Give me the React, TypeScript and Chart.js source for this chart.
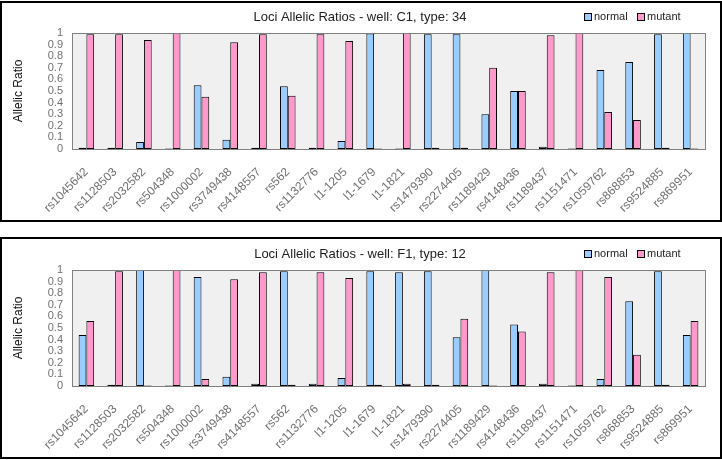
import React, { useEffect, useRef } from "react";
import { Chart, registerables } from "chart.js";

Chart.register(...registerables);

const categories = [
  "rs1045642", "rs1128503", "rs2032582", "rs504348", "rs1000002", "rs3749438",
  "rs4148557", "rs562", "rs1132776", "l1-1205", "l1-1679", "l1-1821",
  "rs1479390", "rs2274405", "rs1189429", "rs4148436", "rs1189437", "rs1151471",
  "rs1059762", "rs868853", "rs9524885", "rs869951",
];

const normalC1 = [0.01, 0.01, 0.06, 0.005, 0.55, 0.08, 0.01, 0.54, 0.01, 0.07, 0.995, 0.005, 0.99, 0.99, 0.3, 0.5, 0.02, 0.005, 0.68, 0.75, 0.99, 1.0];
const mutantC1 = [0.99, 0.99, 0.94, 1.0, 0.45, 0.92, 0.99, 0.46, 0.99, 0.93, 0.005, 1.0, 0.01, 0.01, 0.7, 0.5, 0.98, 1.0, 0.32, 0.25, 0.01, 0.005];

const normalF1 = [0.44, 0.01, 1.0, 0.005, 0.94, 0.08, 0.02, 0.99, 0.02, 0.07, 0.99, 0.98, 0.99, 0.42, 1.0, 0.53, 0.02, 0.005, 0.06, 0.73, 0.99, 0.44];
const mutantF1 = [0.56, 0.99, 0.005, 1.0, 0.06, 0.92, 0.98, 0.01, 0.98, 0.93, 0.01, 0.02, 0.01, 0.58, 0.005, 0.47, 0.98, 1.0, 0.94, 0.27, 0.01, 0.56];

const seriesNames = ["normal", "mutant"];
const seriesColors = ["#99CCFF", "#FF99CC"];
const yTickValues = [0, 0.1, 0.2, 0.3, 0.4, 0.5, 0.6, 0.7, 0.8, 0.9, 1];

const FONT = "'Liberation Sans', Arial, sans-serif";

const headerPlugin = {
  id: "header",
  beforeDraw(chart: any) {
    const { ctx, chartArea } = chart;
    const { left, top, right, bottom } = chartArea;
    ctx.save();
    ctx.fillStyle = "#ffffff";
    ctx.fillRect(0, 0, chart.width, chart.height);
    ctx.fillStyle = "#F0F0F0";
    ctx.fillRect(left, top, right - left, bottom - top);
    ctx.restore();
  },
  afterDraw(chart: any, _args: any, opts: any) {
    const { ctx, chartArea } = chart;
    const { left, top, right, bottom } = chartArea;
    ctx.save();
    ctx.strokeStyle = "#808080";
    ctx.lineWidth = 1;
    ctx.strokeRect(Math.round(left) + 0.5, Math.round(top) + 0.5, Math.round(right - left), Math.round(bottom - top));
    ctx.fillStyle = "#222";
    ctx.font = `13px ${FONT}`;
    ctx.textAlign = "center";
    ctx.textBaseline = "middle";
    ctx.fillText(opts.title, 360, 17);
    ctx.font = `11px ${FONT}`;
    ctx.textAlign = "left";
    const items = [
      { x: 584, label: seriesNames[0], color: seriesColors[0] },
      { x: 637, label: seriesNames[1], color: seriesColors[1] },
    ];
    items.forEach((it) => {
      ctx.fillStyle = it.color;
      ctx.fillRect(it.x, 13, 7, 7);
      ctx.strokeStyle = "#000";
      ctx.strokeRect(it.x + 0.5, 13.5, 7, 7);
      ctx.fillStyle = "#222";
      ctx.fillText(it.label, it.x + 10, 17);
    });
    ctx.restore();
  },
};

function AllelicChart({ title, normal, mutant, top }: { title: string; normal: number[]; mutant: number[]; top: number }) {
  const ref = useRef<HTMLCanvasElement | null>(null);
  useEffect(() => {
    if (!ref.current) return;
    const chart = new Chart(ref.current, {
      type: "bar",
      data: {
        labels: categories,
        datasets: [
          { label: seriesNames[0], data: normal, backgroundColor: seriesColors[0], borderColor: "#000", borderWidth: 1, borderSkipped: false },
          { label: seriesNames[1], data: mutant, backgroundColor: seriesColors[1], borderColor: "#000", borderWidth: 1, borderSkipped: false },
        ],
      },
      options: {
        animation: false,
        responsive: false,
        maintainAspectRatio: false,
        layout: { padding: { top: 33, right: 17, left: 0, bottom: 0 } },
        datasets: { bar: { categoryPercentage: 0.54, barPercentage: 1.0 } },
        plugins: {
          legend: { display: false },
          title: { display: false },
          tooltip: { enabled: false },
          header: { title },
        } as any,
        scales: {
          x: {
            grid: { display: false, drawTicks: false },
            border: { display: false },
            ticks: {
              autoSkip: false,
              minRotation: 45,
              maxRotation: 45,
              color: "#707070",
              font: { family: FONT, size: 12 },
              padding: 16,
            },
            afterFit: (s: any) => { s.height = 73; },
          },
          y: {
            min: 0,
            max: 1,
            grid: { display: false, drawTicks: false },
            border: { display: false },
            afterBuildTicks: (s: any) => { s.ticks = yTickValues.map((v) => ({ value: v })); },
            ticks: {
              autoSkip: false,
              color: "#707070",
              font: { family: FONT, size: 11 },
              padding: 9,
              callback: (v: any) => String(Math.round(Number(v) * 10) / 10),
            },
            title: {
              display: true,
              text: "Allelic Ratio",
              color: "#111",
              font: { family: FONT, size: 12 },
              padding: { top: 11, bottom: 0 },
            },
            afterFit: (s: any) => { s.width = 72; },
          },
        },
      },
      plugins: [headerPlugin],
    } as any);
    return () => chart.destroy();
  }, [title, normal, mutant]);

  return (
    <div style={{ position: "absolute", left: 0, top, width: 722, height: 222 }}>
      <canvas ref={ref} width={722} height={222} style={{ display: "block", width: 722, height: 222 }} />
    </div>
  );
}

export default function App() {
  return (
    <div style={{ position: "fixed", left: 0, top: 0, width: 722, height: 460, background: "#fff", overflow: "hidden" }}>
      <AllelicChart title="Loci Allelic Ratios - well: C1, type: 34" normal={normalC1} mutant={mutantC1} top={0} />
      <AllelicChart title="Loci Allelic Ratios - well: F1, type: 12" normal={normalF1} mutant={mutantF1} top={237} />
      <div style={{ position: "absolute", left: 0, top: 1, width: 722, height: 221, border: "2px solid #000", boxSizing: "border-box", pointerEvents: "none" }} />
      <div style={{ position: "absolute", left: 0, top: 237, width: 722, height: 222, border: "2px solid #000", boxSizing: "border-box", pointerEvents: "none" }} />
    </div>
  );
}
